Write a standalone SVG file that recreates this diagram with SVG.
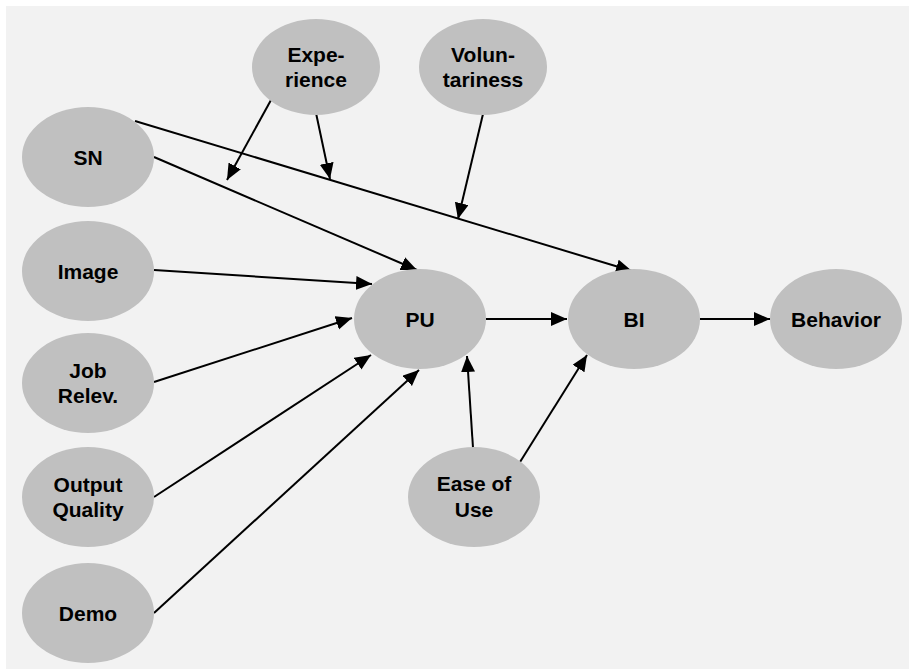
<svg xmlns="http://www.w3.org/2000/svg" width="909" height="670" viewBox="0 0 909 670">
<defs>
<marker id="arr" markerUnits="userSpaceOnUse" markerWidth="17" markerHeight="15" refX="16" refY="7" orient="auto">
<path d="M0,0 L16,7 L0,14 z" fill="#000"/>
</marker>
<style>
.n ellipse{fill:#C0C0C0;stroke:none}
.n text{font-family:"Liberation Sans",Arial,sans-serif;font-weight:bold;font-size:21px;fill:#000;text-anchor:middle}
#edges line{stroke:#000;stroke-width:2;marker-end:url(#arr)}
</style>
</defs>
<rect x="6" y="6" width="903" height="663" fill="#F2F2F2"/>
<g id="edges">
<line x1="154" y1="157" x2="417" y2="270"/>
<line x1="135" y1="121" x2="632" y2="271"/>
<line x1="154" y1="270" x2="372" y2="284"/>
<line x1="154" y1="382" x2="352" y2="318"/>
<line x1="154" y1="497" x2="371" y2="355"/>
<line x1="154" y1="613" x2="419" y2="370"/>
<line x1="486" y1="319" x2="567" y2="319"/>
<line x1="700" y1="319" x2="770" y2="319"/>
<line x1="473" y1="448" x2="467" y2="356"/>
<line x1="520" y1="462" x2="587" y2="355"/>
<line x1="271" y1="100" x2="227" y2="180"/>
<line x1="316" y1="113" x2="330" y2="179"/>
<line x1="483" y1="114" x2="458" y2="219"/>
</g>
<g id="experience" class="n"><ellipse cx="316" cy="67" rx="64" ry="48"/><text x="316" y="62">Expe-</text><text x="316" y="87">rience</text></g>
<g id="voluntariness" class="n"><ellipse cx="483" cy="67" rx="64" ry="48"/><text x="483" y="62">Volun-</text><text x="483" y="87">tariness</text></g>
<g id="sn" class="n"><ellipse cx="88" cy="157" rx="66" ry="50"/><text x="88" y="164.5">SN</text></g>
<g id="image" class="n"><ellipse cx="88" cy="271" rx="66" ry="50"/><text x="88" y="278.5">Image</text></g>
<g id="jobrelev" class="n"><ellipse cx="88" cy="383" rx="66" ry="50"/><text x="88" y="377.5">Job</text><text x="88" y="403">Relev.</text></g>
<g id="outputquality" class="n"><ellipse cx="88" cy="497" rx="66" ry="50"/><text x="88" y="491.5">Output</text><text x="88" y="517">Quality</text></g>
<g id="demo" class="n"><ellipse cx="88" cy="613" rx="66" ry="50"/><text x="88" y="620.5">Demo</text></g>
<g id="pu" class="n"><ellipse cx="420" cy="319" rx="66" ry="50"/><text x="420" y="326.5">PU</text></g>
<g id="bi" class="n"><ellipse cx="634" cy="319" rx="66" ry="50"/><text x="634" y="326.5">BI</text></g>
<g id="behavior" class="n"><ellipse cx="836" cy="319" rx="66" ry="50"/><text x="836" y="326.5">Behavior</text></g>
<g id="easeofuse" class="n"><ellipse cx="474" cy="497" rx="66" ry="50"/><text x="474" y="491">Ease of</text><text x="474" y="517">Use</text></g>
</svg>
